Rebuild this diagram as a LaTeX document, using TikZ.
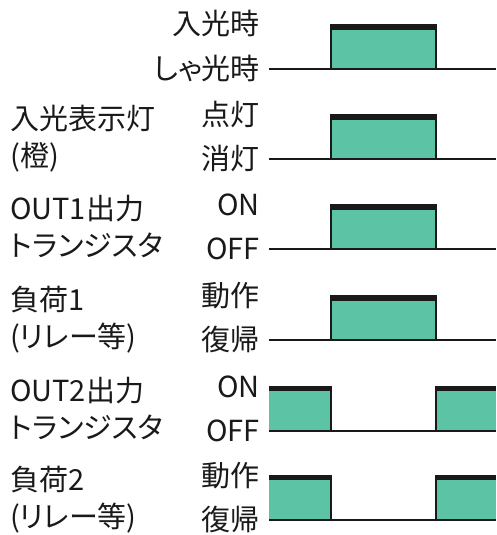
\documentclass[tikz,border=0pt]{standalone}
\usepackage{fontspec}
\setmainfont[RawFeature=+palt]{Noto Sans CJK JP}
\definecolor{teal1}{RGB}{92,196,164}
\definecolor{ink}{RGB}{25,25,25}
\tikzset{
  lvl/.style={font=\fontsize{29}{32}\selectfont, text=ink, inner sep=0pt, anchor=base east},
  sig/.style={font=\fontsize{29}{32}\selectfont, text=ink, inner sep=0pt, anchor=base west},
  baseln/.style={draw=ink, line width=1.8pt},
  edgeln/.style={draw=ink, line width=2pt},
  topbar/.style={fill=ink},
  pulsefill/.style={fill=teal1},
}
\begin{document}
\begin{tikzpicture}[x=1pt,y=-1pt]
\useasboundingbox (0,0) rectangle (496,535);

% level labels
\foreach \r/\hi/\lo [count=\i] in {69/入光時/しゃ光時, 159/点灯/消灯, 249/ON/OFF, 340/動作/復帰, 431/ON/OFF, 520/動作/復帰}{
  \node[lvl] (hi\i) at (260,{\r-34}) {\hi};
  \node[lvl] (lo\i) at (260,{\r+10}) {\lo};
  \coordinate (s\i) at (269,\r);
  \coordinate (e\i) at (496,\r);
}

% signal labels
\node[sig] (n2a) at (10,129) {入光表示灯};
\node[sig] (n2b) at (10,166) {(橙)};
\node[sig] (n3a) at (10,219) {OUT1出力};
\node[sig] (n3b) at (10,256) {トランジスタ};
\node[sig] (n4a) at (10,310) {負荷1};
\node[sig] (n4b) at (10,347) {(リレー等)};
\node[sig] (n5a) at (10,401) {OUT2出力};
\node[sig] (n5b) at (10,438) {トランジスタ};
\node[sig] (n6a) at (10,490) {負荷2};
\node[sig] (n6b) at (10,527) {(リレー等)};

% middle pulses (rows 1-4)
\foreach \r in {69,159,249,340}{
  \fill[pulsefill] (331,{\r-44}) rectangle (436,\r);
  \fill[topbar] (330,{\r-44}) rectangle (437,{\r-39});
  \draw[edgeln] (331,\r) -- (331,{\r-44}) -- (436,{\r-44}) -- (436,\r);
}
% edge pulses (rows 5-6)
\foreach \r in {431,520}{
  \fill[pulsefill] (269,{\r-44}) rectangle (331,\r);
  \fill[topbar] (269,{\r-44}) rectangle (332,{\r-40});
  \draw[edgeln] (269,{\r-44}) -- (331,{\r-44}) -- (331,\r);
  \fill[pulsefill] (436,{\r-44}) rectangle (496,\r);
  \fill[topbar] (435,{\r-44}) rectangle (496,{\r-40});
  \draw[edgeln] (436,\r) -- (436,{\r-44}) -- (496,{\r-44});
}

% baselines
\foreach \i in {1,...,6}{
  \draw[baseln] (s\i) -- (e\i);
}
\end{tikzpicture}
\end{document}
